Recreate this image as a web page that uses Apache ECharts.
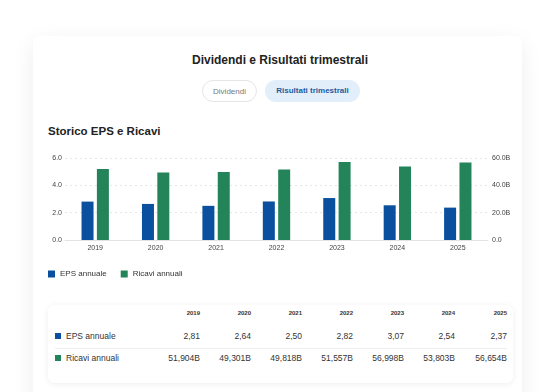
<!DOCTYPE html>
<html><head><meta charset="utf-8">
<script src="https://cdn.jsdelivr.net/npm/echarts@6/dist/echarts.min.js"></script>
<style>
html,body{margin:0;padding:0;width:546px;height:392px;overflow:hidden;background:#ffffff;font-family:"Liberation Sans",Arial,sans-serif;}
#card{position:absolute;left:33px;top:36px;width:489px;height:380px;background:#fff;border-radius:6px;box-shadow:0 6px 22px rgba(0,0,0,0.07);}
#title{position:absolute;left:0;top:53px;width:560px;text-align:center;font-size:12px;font-weight:bold;color:#222;}
.pill{position:absolute;top:80px;height:22px;line-height:22px;border-radius:11px;font-size:8px;text-align:center;box-sizing:border-box;}
#p1{left:202px;width:55px;border:1px solid #e6e6e6;color:#777;background:#fff;}
#p2{left:265px;width:95px;background:#e2effb;color:#1d5c9e;font-weight:bold;}
#sub{position:absolute;left:48px;top:125px;font-size:11.5px;font-weight:bold;color:#222;}
#tbox{position:absolute;left:48px;top:305px;width:465px;height:78px;background:#fff;border-radius:6px;box-shadow:0 1px 6px rgba(0,0,0,0.07);}
#chart{position:absolute;left:0;top:0;width:546px;height:392px;}
.cell{position:absolute;color:#333;white-space:nowrap;}
</style></head>
<body>
<div id="card"></div>
<div id="title">Dividendi e Risultati trimestrali</div>
<div class="pill" id="p1">Dividendi</div>
<div class="pill" id="p2">Risultati trimestrali</div>
<div id="sub">Storico EPS e Ricavi</div>
<div id="tbox"></div>
<div id="tcells"></div>
<div id="chart"></div>
<script>
const years = ['2019','2020','2021','2022','2023','2024','2025'];
const epsAnnual = [2.81, 2.64, 2.50, 2.82, 3.07, 2.54, 2.37];
const revenueAnnual = [51.904, 49.301, 49.818, 51.557, 56.998, 53.803, 56.654];
const seriesNames = ['EPS annuale', 'Ricavi annuali'];
const leftTicks = [0, 2, 4, 6];
const rightTicks = [0, 20, 40, 60];

const BLUE = '#0a509e', GREEN = '#238459';

// table cells
const tc = document.getElementById('tcells');
const colRight = [200, 251, 302, 353, 404, 455, 507];
function addCell(txt, right, top, style){
  const d = document.createElement('div');
  d.className = 'cell';
  d.textContent = txt;
  d.style.right = (546 - right) + 'px';
  d.style.top = top + 'px';
  Object.assign(d.style, style || {});
  tc.appendChild(d);
}
years.forEach((y,i)=>addCell(y, colRight[i], 310, {fontSize:'6px', fontWeight:'bold', color:'#333'}));
epsAnnual.forEach((v,i)=>addCell(v.toFixed(2).replace('.', ','), colRight[i], 331, {fontSize:'8.5px'}));
revenueAnnual.forEach((v,i)=>addCell(v.toFixed(3).replace('.', ',') + 'B', colRight[i], 353, {fontSize:'8.5px'}));
function addLabel(txt, top, color){
  const sq = document.createElement('div');
  sq.style.cssText = 'position:absolute;left:55px;width:6px;height:6px;background:'+color+';top:'+(top+2)+'px;';
  tc.appendChild(sq);
  const d = document.createElement('div');
  d.className = 'cell';
  d.textContent = txt;
  d.style.left = '66px'; d.style.top = top + 'px'; d.style.fontSize = '8.5px';
  tc.appendChild(d);
}
addLabel(seriesNames[0], 331, BLUE);
addLabel(seriesNames[1], 353, GREEN);
const sep = document.createElement('div');
sep.style.cssText = 'position:absolute;left:55px;width:452px;top:348px;height:1px;background:#efefef;';
tc.appendChild(sep);

const chart = echarts.init(document.getElementById('chart'), null, {renderer:'canvas'});
chart.setOption({
  animation:false,
  backgroundColor:'transparent',
  grid:{left:65, right:58, top:158, bottom:152, containLabel:false},
  legend:{
    left:45, top:270, icon:'rect', itemWidth:7, itemHeight:7, itemGap:14, padding:[0,3],
    textStyle:{fontSize:8, color:'#333', fontFamily:'Liberation Sans'},
    data:seriesNames
  },
  xAxis:{
    type:'category', data:years,
    axisLine:{lineStyle:{color:'#e3e3e3'}},
    axisTick:{show:false},
    axisLabel:{fontSize:7, color:'#444', margin:5, fontFamily:'Liberation Sans'}
  },
  yAxis:[
    {type:'value', min:leftTicks[0], max:leftTicks[leftTicks.length-1], interval:2,
     axisLabel:{fontSize:7, color:'#444', margin:3, formatter:v=>v.toFixed(1), fontFamily:'Liberation Sans'},
     splitLine:{lineStyle:{color:'#e6e6e6', type:[2,3]}},
     axisLine:{show:false}, axisTick:{show:false}},
    {type:'value', min:rightTicks[0], max:rightTicks[rightTicks.length-1], interval:20,
     axisLabel:{fontSize:7, color:'#444', margin:4, formatter:v=> v===0 ? '0.0' : v.toFixed(1)+'B', fontFamily:'Liberation Sans'},
     splitLine:{show:false},
     axisLine:{show:false}, axisTick:{show:false}}
  ],
  series:[
    {name:seriesNames[0], type:'bar', yAxisIndex:0, data:epsAnnual, barWidth:12, barGap:'28%',
     itemStyle:{color:BLUE}},
    {name:seriesNames[1], type:'bar', yAxisIndex:1, data:revenueAnnual, barWidth:12,
     itemStyle:{color:GREEN}}
  ]
});
</script>
</body></html>
